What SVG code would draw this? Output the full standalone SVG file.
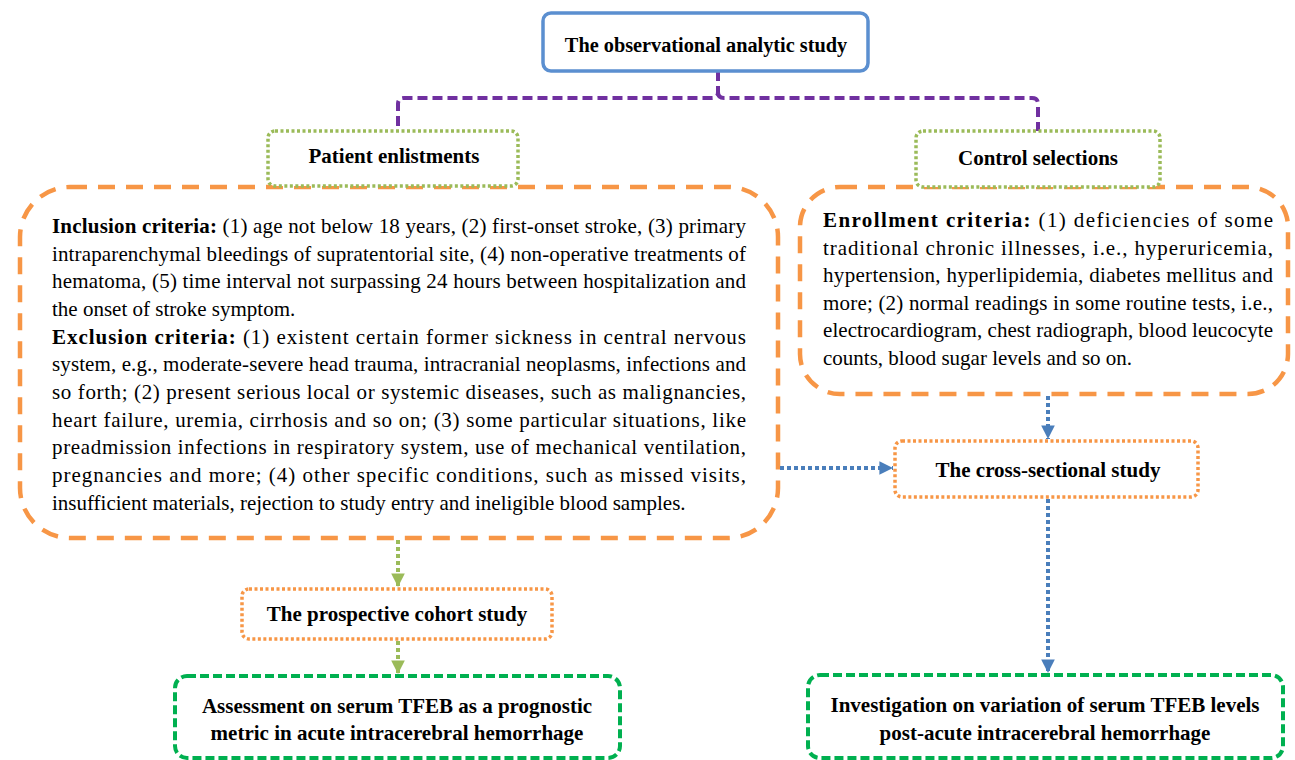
<svg xmlns="http://www.w3.org/2000/svg" width="1295" height="760" viewBox="0 0 1295 760">
<defs>
<style>
.t{font-family:"Liberation Serif","Times New Roman",serif;font-size:21px;fill:#000}
.h{font-family:"Liberation Serif","Times New Roman",serif;font-size:21px;font-weight:bold;fill:#000;text-anchor:middle}
.b{font-weight:bold}
.orange-dash{fill:#fff;stroke:#f79646;stroke-width:4.5;stroke-dasharray:17 11}
.green-dot{fill:#fff;stroke:#9bbb59;stroke-width:3.5;stroke-dasharray:3 2.5}
.orange-dot{fill:#fff;stroke:#f79646;stroke-width:3.5;stroke-dasharray:3 2.5}
.green-dash{fill:#fff;stroke:#00b050;stroke-width:4;stroke-dasharray:9 4}
.blue-arrow{fill:none;stroke:#4a7ebb;stroke-width:4;stroke-dasharray:4 3}
.green-arrow{fill:none;stroke:#9bbb59;stroke-width:4;stroke-dasharray:4 3}
</style>
<marker id="ab" viewBox="0 0 10 10" refX="10" refY="5" markerWidth="3.4" markerHeight="3.4" orient="auto" markerUnits="strokeWidth"><path d="M0,0 L10,5 L0,10 Z" fill="#4a7ebb"/></marker>
<marker id="ag" viewBox="0 0 10 10" refX="10" refY="5" markerWidth="3.4" markerHeight="3.4" orient="auto" markerUnits="strokeWidth"><path d="M0,0 L10,5 L0,10 Z" fill="#9bbb59"/></marker>
</defs>
<rect width="1295" height="760" fill="#fff"/>

<g id="connectors">
<path d="M718,71 L718,92 Q718,98 712,98 L404,98 Q398,98 398,104 L398,130" fill="none" stroke="#7030a0" stroke-width="4" stroke-dasharray="10 5"/>
<path d="M718,92 Q718,98 724,98 L1032,98 Q1038,98 1038,104 L1038,131" fill="none" stroke="#7030a0" stroke-width="4" stroke-dasharray="10 5"/>
</g>

<g id="left-criteria">
<rect class="orange-dash" x="20" y="187" width="758" height="351" rx="50"/>
<text class="t" x="52" y="233" textLength="694" lengthAdjust="spacing"><tspan class="b">Inclusion criteria:</tspan> (1) age not below 18 years, (2) first-onset stroke, (3) primary</text>
<text class="t" x="52" y="260.7" textLength="694" lengthAdjust="spacing">intraparenchymal bleedings of supratentorial site, (4) non-operative treatments of</text>
<text class="t" x="52" y="288.3" textLength="694" lengthAdjust="spacing">hematoma, (5) time interval not surpassing 24 hours between hospitalization and</text>
<text class="t" x="52" y="316">the onset of stroke symptom.</text>
<text class="t" x="52" y="343.7" textLength="694" lengthAdjust="spacing"><tspan class="b">Exclusion criteria:</tspan> (1) existent certain former sickness in central nervous</text>
<text class="t" x="52" y="371.3" textLength="694" lengthAdjust="spacing">system, e.g., moderate-severe head trauma, intracranial neoplasms, infections and</text>
<text class="t" x="52" y="399" textLength="694" lengthAdjust="spacing">so forth; (2) present serious local or systemic diseases, such as malignancies,</text>
<text class="t" x="52" y="426.7" textLength="694" lengthAdjust="spacing">heart failure, uremia, cirrhosis and so on; (3) some particular situations, like</text>
<text class="t" x="52" y="454.3" textLength="694" lengthAdjust="spacing">preadmission infections in respiratory system, use of mechanical ventilation,</text>
<text class="t" x="52" y="482" textLength="694" lengthAdjust="spacing">pregnancies and more; (4) other specific conditions, such as missed visits,</text>
<text class="t" x="52" y="509.7">insufficient materials, rejection to study entry and ineligible blood samples.</text>
</g>

<g id="right-criteria">
<rect class="orange-dash" x="800" y="187" width="488" height="207" rx="40"/>
<text class="t" x="823" y="227" textLength="450" lengthAdjust="spacing"><tspan class="b">Enrollment criteria:</tspan> (1) deficiencies of some</text>
<text class="t" x="823" y="254.5" textLength="450" lengthAdjust="spacing">traditional chronic illnesses, i.e., hyperuricemia,</text>
<text class="t" x="823" y="282" textLength="450" lengthAdjust="spacing">hypertension, hyperlipidemia, diabetes mellitus and</text>
<text class="t" x="823" y="309.5" textLength="450" lengthAdjust="spacing">more; (2) normal readings in some routine tests, i.e.,</text>
<text class="t" x="823" y="337" textLength="450" lengthAdjust="spacing">electrocardiogram, chest radiograph, blood leucocyte</text>
<text class="t" x="823" y="364.5">counts, blood sugar levels and so on.</text>
</g>

<g id="top">
<rect x="543" y="13" width="325" height="58" rx="8" fill="#fff" stroke="#5b8fd0" stroke-width="3.5"/>
<text class="h" x="706" y="52" style="font-size:20.3px">The observational analytic study</text>
</g>

<g id="patient">
<rect class="green-dot" x="268" y="131" width="250" height="55" rx="7"/>
<text class="h" x="394" y="163">Patient enlistments</text>
</g>

<g id="control">
<rect class="green-dot" x="916" y="131" width="244" height="56" rx="7"/>
<text class="h" x="1038" y="165">Control selections</text>
</g>

<g id="cross">
<rect class="orange-dot" x="895" y="441" width="303" height="56" rx="7"/>
<text class="h" x="1048" y="477">The cross-sectional study</text>
</g>

<g id="prospective">
<rect class="orange-dot" x="242" y="589" width="310" height="50" rx="7"/>
<text class="h" x="397" y="621">The prospective cohort study</text>
</g>

<g id="assessment">
<rect class="green-dash" x="175" y="676" width="445" height="82" rx="12"/>
<text class="h" x="397" y="713">Assessment on serum TFEB as a prognostic</text>
<text class="h" x="397" y="740">metric in acute intracerebral hemorrhage</text>
</g>

<g id="investigation">
<rect class="green-dash" x="808" y="675" width="475" height="83" rx="12"/>
<text class="h" x="1045" y="712">Investigation on variation of serum TFEB levels</text>
<text class="h" x="1045" y="740">post-acute intracerebral hemorrhage</text>
</g>

<g id="arrows">
<path class="blue-arrow" d="M1048,396 L1048,439" marker-end="url(#ab)"/>
<path class="blue-arrow" d="M780,468 L893,468" marker-end="url(#ab)"/>
<path class="blue-arrow" d="M1048,499 L1048,673" marker-end="url(#ab)"/>
<path class="green-arrow" d="M398,540 L398,587" marker-end="url(#ag)"/>
<path class="green-arrow" d="M398,641 L398,674" marker-end="url(#ag)"/>
</g>
</svg>
